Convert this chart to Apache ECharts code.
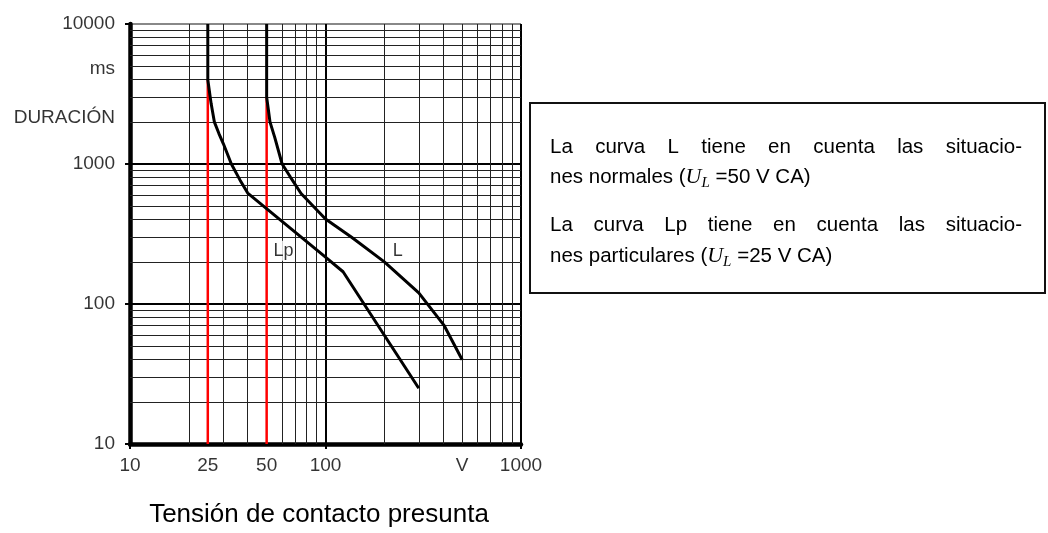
<!DOCTYPE html>
<html>
<head>
<meta charset="utf-8">
<script src="https://cdn.jsdelivr.net/npm/echarts/dist/echarts.min.js"></script>
<style>
html,body{margin:0;padding:0;background:#fff;}
#main{width:1048px;height:533px;}
</style>
</head>
<body>
<div id="main"></div>
<script>
// curva L (50 V)
var lX = [50, 50, 51, 52, 55, 60, 66, 75, 100, 136, 200, 300, 405, 500];
var lY = [10000, 3000, 2450, 2000, 1550, 1000, 810, 615, 405, 300, 200, 120, 70, 40];
// curva Lp (25 V)
var lpX = [25, 25, 26, 27, 28.5, 30, 33, 36.5, 40, 100, 123, 300];
var lpY = [10000, 4000, 2700, 2000, 1650, 1400, 1000, 770, 620, 216, 170, 25];
// lineas rojas U_L
var ulX = [25, 50];
var ulTop = [4000, 3000];
// rejilla secundaria
var xMinor = [20, 30, 40, 50, 60, 70, 80, 90, 200, 300, 400, 500, 600, 700, 800, 900];
var yMinor = [20, 30, 40, 50, 60, 70, 80, 90, 200, 300, 400, 500, 600, 700, 800, 900,
	2000, 3000, 4000, 5000, 6000, 7000, 8000, 9000];
// etiquetas de los ejes
var xTickVals = [10, 25, 50, 100, 500, 1000];
var xTickText = ['10', '25', '50', '100', 'V', '1000'];
var yTickVals = [10, 100, 1000, 2150, 4800, 10000];
var yTickText = ['10', '100', '1000', 'DURACIÓN', 'ms', '10000'];
// nombres de las curvas
var curveNames = ['Lp', 'L'];
var curveNameX = [61, 234];
var curveNameY = [240, 240];

var FONT = 'Liberation Sans';

function pairs(xs, ys) {
	var out = [];
	for (var i = 0; i < xs.length; i++) out.push([xs[i], ys[i]]);
	return out;
}

// medir texto para justificar las lineas del recuadro
var mctx = document.createElement('canvas').getContext('2d');
function tw(s, size) {
	mctx.font = size + 'px "' + FONT + '"';
	return mctx.measureText(s).width;
}
function justifyLine(str, x0, x1, y, size) {
	var words = str.split(' ');
	var total = 0;
	words.forEach(function (w) { total += tw(w, size); });
	var gap = (x1 - x0 - total) / (words.length - 1);
	var x = x0;
	var els = [];
	words.forEach(function (w) {
		els.push({
			type: 'text', x: x, y: y, z: 101,
			style: { text: w, fontFamily: FONT, fontSize: size, fill: '#000', verticalAlign: 'middle' }
		});
		x += tw(w, size) + gap;
	});
	return els;
}
function ulLine(pre, post, x, y, size) {
	return {
		type: 'text', x: x, y: y, z: 101,
		style: {
			text: pre + '{u|U}{l|L}' + post,
			fontFamily: FONT, fontSize: size, lineHeight: 28, fill: '#000', verticalAlign: 'middle',
			rich: {
				u: { fontFamily: 'Liberation Serif', fontStyle: 'italic', fontSize: 22, lineHeight: 28 },
				l: { fontFamily: 'Liberation Serif', fontStyle: 'italic', fontSize: 15, lineHeight: 17, verticalAlign: 'bottom' }
			}
		}
	};
}

var boxEls = [{
	type: 'rect', z: 100,
	shape: { x: 530, y: 103, width: 515, height: 190 },
	style: { fill: '#fff', stroke: '#111', lineWidth: 2 }
}];
boxEls = boxEls.concat(justifyLine('La curva L tiene en cuenta las situacio-', 550, 1022, 147, 20.5));
boxEls.push(ulLine('nes normales (', ' =50 V CA)', 550, 177, 20.5));
boxEls = boxEls.concat(justifyLine('La curva Lp tiene en cuenta las situacio-', 550, 1022, 225, 20.5));
boxEls.push(ulLine('nes particulares (', ' =25 V CA)', 550, 256, 20.5));

var chart = echarts.init(document.getElementById('main'));

var series = [];
// rejilla secundaria como markLine
series.push({
	type: 'line', data: [], silent: true, z: 1,
	markLine: {
		silent: true, animation: false, z: 1,
		symbol: ['none', 'none'],
		label: { show: false },
		lineStyle: { color: '#222', width: 1, type: 'solid' },
		emphasis: { disabled: true },
		data: xMinor.map(function (v) { return { xAxis: v }; })
			.concat(yMinor.map(function (v) { return { yAxis: v }; }))
	}
});
// lineas rojas
ulX.forEach(function (x, i) {
	series.push({
		type: 'line', silent: true, symbol: 'none', z: 6,
		lineStyle: { color: '#ff0000', width: 2.5 },
		data: [[x, ulTop[i]], [x, 10]]
	});
});
// curvas
series.push({
	name: 'Lp', type: 'line', silent: true, symbol: 'none', z: 7,
	lineStyle: { color: '#000', width: 3 },
	data: pairs(lpX, lpY)
});
series.push({
	name: 'L', type: 'line', silent: true, symbol: 'none', z: 7,
	lineStyle: { color: '#000', width: 3 },
	data: pairs(lX, lY)
});
// etiquetas del eje X
series.push({
	type: 'scatter', silent: true, clip: false, symbolSize: 0, z: 8,
	data: xTickVals.map(function (v) { return [v, 10]; }),
	label: {
		show: true, position: 'bottom', distance: 12,
		fontFamily: FONT, fontSize: 19, color: '#000',
		formatter: function (p) { return xTickText[p.dataIndex]; }
	}
});
// etiquetas del eje Y
series.push({
	type: 'scatter', silent: true, clip: false, symbolSize: 0, z: 8,
	data: yTickVals.map(function (v) { return [10, v]; }),
	label: {
		show: true, position: 'left', distance: 15,
		fontFamily: FONT, fontSize: 19, color: '#000',
		formatter: function (p) { return yTickText[p.dataIndex]; }
	}
});
// nombres de curvas
series.push({
	type: 'scatter', silent: true, symbolSize: 0, z: 8,
	data: pairs(curveNameX, curveNameY),
	label: {
		show: true, position: 'inside',
		fontFamily: FONT, fontSize: 18, color: '#000',
		backgroundColor: '#fff', padding: [1, 1],
		formatter: function (p) { return curveNames[p.dataIndex]; }
	}
});

var option = {
	animation: false,
	backgroundColor: '#fff',
	grid: { left: 130, top: 24, width: 391, height: 430, containLabel: false },
	xAxis: {
		type: 'log', logBase: 10, min: 10, max: 1000, splitNumber: 2,
		name: 'Tensión de contacto presunta',
		nameLocation: 'middle', nameGap: 58,
		nameTextStyle: { fontFamily: FONT, fontSize: 26, color: '#000', padding: [0, 13, 0, 0] },
		axisLine: { show: true, onZero: false, lineStyle: { color: '#000', width: 4.5 } },
		axisTick: { show: true, inside: false, length: 5, lineStyle: { color: '#000', width: 2 } },
		axisLabel: { show: false },
		splitLine: { show: true, lineStyle: { color: '#000', width: 2 } },
		minorTick: { show: false },
		minorSplitLine: { show: false }
	},
	yAxis: {
		type: 'log', logBase: 10, min: 10, max: 10000, splitNumber: 3,
		axisLine: { show: true, onZero: false, lineStyle: { color: '#000', width: 4.5 } },
		axisTick: { show: true, inside: false, length: 5, lineStyle: { color: '#000', width: 2 } },
		axisLabel: { show: false },
		splitLine: { show: true, lineStyle: { color: ['#000', '#000', '#000', '#888'], width: 2 } }
	},
	graphic: boxEls,
	series: series
};
chart.setOption(option);
</script>
</body>
</html>
